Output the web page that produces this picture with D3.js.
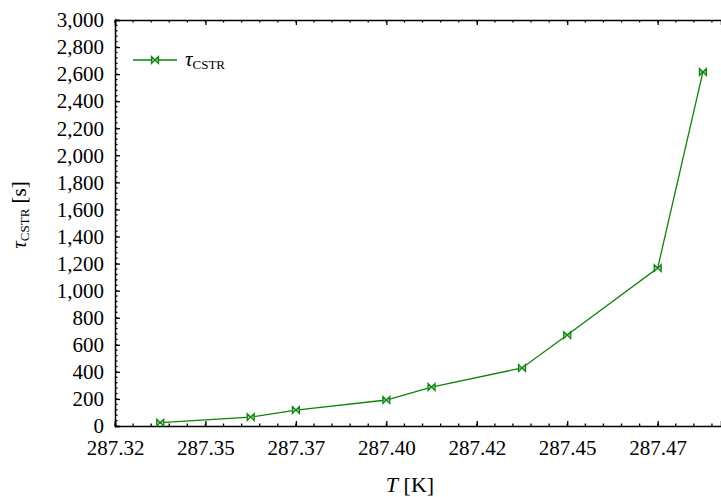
<!DOCTYPE html>
<html>
<head>
<meta charset="utf-8">
<script src="https://cdn.jsdelivr.net/npm/d3@7"></script>
<style>
  body { margin: 0; background: #fff; }
  svg { display: block; }
  svg text { font-family: "Liberation Serif", "Times New Roman", serif; fill: #000; }
</style>
</head>
<body>
<div id="chart"></div>
<script>
// data
const temps = [287.3375, 287.3625, 287.375, 287.4, 287.4125, 287.4375, 287.45, 287.475, 287.4875];
const tau = [25, 66, 118, 192, 288, 429, 672, 1167, 2616];

const xTickValues = [287.325, 287.35, 287.375, 287.4, 287.425, 287.45, 287.475];
const xTickLabels = ["287.32", "287.35", "287.37", "287.40", "287.42", "287.45", "287.47"];
const yTickValues = d3.range(0, 3001, 200);

const width = 721, height = 497;
const margin = { top: 20, right: 0, bottom: 71, left: 115 };
const green = "#0a840a";
const serif = "'Liberation Serif', 'Times New Roman', serif";

const svg = d3.select("#chart").append("svg")
  .attr("width", width)
  .attr("height", height);

const x = d3.scaleLinear()
  .domain([287.325, 287.4925])
  .range([margin.left, width - margin.right]);

const y = d3.scaleLinear()
  .domain([0, 3000])
  .range([height - margin.bottom, margin.top]);

// minor tick positions
const xMinor = d3.range(0, 34).map((i) => 287.325 + i * 0.005).filter((v) => v <= 287.4925);
const yMinor = d3.range(0, 76).map((i) => i * 40);

// bottom axis, ticks pointing in
const xAxis = d3.axisBottom(x)
  .tickValues(xTickValues)
  .tickFormat((d, i) => xTickLabels[i])
  .tickSize(-5)
  .tickPadding(14);

const gx = svg.append("g")
  .attr("transform", `translate(0,${y(0)})`)
  .call(xAxis);

gx.selectAll(".minor")
  .data(xMinor)
  .enter()
  .append("line")
  .attr("x1", (d) => x(d))
  .attr("x2", (d) => x(d))
  .attr("y1", 0)
  .attr("y2", -2.5)
  .attr("stroke", "#000")
  .attr("stroke-width", 1.3);

// top axis, no labels
const gTop = svg.append("g")
  .attr("transform", `translate(0,${y(3000)})`)
  .call(d3.axisTop(x).tickValues(xTickValues).tickFormat("").tickSize(-5));

gTop.selectAll(".minor")
  .data(xMinor)
  .enter()
  .append("line")
  .attr("x1", (d) => x(d))
  .attr("x2", (d) => x(d))
  .attr("y1", 0)
  .attr("y2", 2.5)
  .attr("stroke", "#000")
  .attr("stroke-width", 1.3);

// left axis
const gy = svg.append("g")
  .attr("transform", `translate(${margin.left},0)`)
  .call(
    d3.axisLeft(y)
      .tickValues(yTickValues)
      .tickFormat(d3.format(","))
      .tickSize(-5)
      .tickPadding(11)
  );

gy.selectAll(".minor")
  .data(yMinor)
  .enter()
  .append("line")
  .attr("x1", 0)
  .attr("x2", 2.5)
  .attr("y1", (d) => y(d))
  .attr("y2", (d) => y(d))
  .attr("stroke", "#000")
  .attr("stroke-width", 1.3);

[gx, gTop, gy].forEach((g) => {
  g.attr("font-family", serif);
  g.select(".domain").attr("stroke-width", 1.5);
  g.selectAll(".tick line").attr("stroke-width", 1.3);
  g.selectAll(".tick text")
    .style("font-family", serif)
    .style("font-size", "21px");
});

// series line
const pts = temps.map((t, i) => ({ t, v: tau[i] }));

svg.append("path")
  .datum(pts)
  .attr("fill", "none")
  .attr("stroke", green)
  .attr("stroke-width", 1.3)
  .attr("d", d3.line().x((d) => x(d.t)).y((d) => y(d.v)));

// bowtie marker
const bowtie = "M-3.5,-3.5 L0,0 L-3.5,3.5 Z M3.5,-3.5 L0,0 L3.5,3.5 Z";

svg.selectAll(".marker")
  .data(pts)
  .enter()
  .append("path")
  .attr("class", "marker")
  .attr("transform", (d) => `translate(${x(d.t)},${y(d.v)})`)
  .attr("d", bowtie)
  .attr("fill", "#8fcc8f")
  .attr("stroke", green)
  .attr("stroke-width", 1.2);

// legend
const legend = svg.append("g").attr("transform", "translate(133,60)");

legend.append("line")
  .attr("x1", 0)
  .attr("x2", 44)
  .attr("stroke", green)
  .attr("stroke-width", 1.3);

legend.append("path")
  .attr("transform", "translate(22,0)")
  .attr("d", bowtie)
  .attr("fill", "#8fcc8f")
  .attr("stroke", green)
  .attr("stroke-width", 1.2);

const legendText = legend.append("text")
  .attr("x", 52)
  .attr("y", 6)
  .style("font-family", serif)
  .style("font-size", "21px");

legendText.append("tspan").style("font-style", "italic").text("τ");
legendText.append("tspan").attr("dy", 3).style("font-size", "13px").text("CSTR");

// axis titles
const xTitle = svg.append("text")
  .attr("x", 410)
  .attr("y", 492)
  .attr("text-anchor", "middle")
  .style("font-family", serif)
  .style("font-size", "22px");

xTitle.append("tspan").style("font-style", "italic").text("T");
xTitle.append("tspan").text(" [K]");

const yTitle = svg.append("text")
  .attr("transform", "translate(26,215) rotate(-90)")
  .attr("text-anchor", "middle")
  .style("font-family", serif)
  .style("font-size", "21px");

yTitle.append("tspan").style("font-style", "italic").text("τ");
yTitle.append("tspan").attr("dy", 3).style("font-size", "13px").text("CSTR");
yTitle.append("tspan").attr("dy", -3).text(" [s]");
</script>
</body>
</html>
